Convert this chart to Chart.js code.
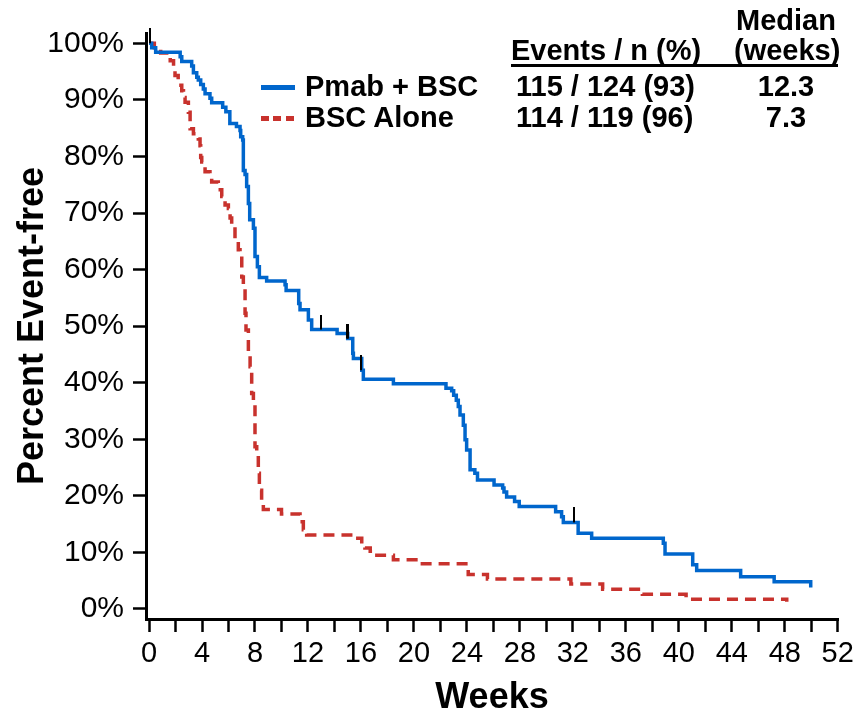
<!DOCTYPE html>
<html>
<head>
<meta charset="utf-8">
<script src="https://cdn.jsdelivr.net/npm/chart.js@4.4.1/dist/chart.umd.min.js"></script>
<style>
  html, body { margin: 0; padding: 0; background: #fff; }
  #wrap { position: relative; width: 854px; height: 716px; font-family: "Liberation Sans", Arial, sans-serif; }
  #kmChart { position: absolute; left: 0; top: 0; }
  .lg { position: absolute; font-weight: bold; font-size: 29px; line-height: 29px; white-space: nowrap; color: #000; }
  .ctr { width: 104px; text-align: center; }
</style>
</head>
<body>
<div id="wrap">
  <canvas id="kmChart" width="854" height="716"></canvas>

  <div class="lg ctr" style="left:734px;top:6px;">Median</div>
  <div class="lg" style="left:511px;top:36px;">Events / n (%)</div>
  <div class="lg ctr" style="left:734px;top:36px;">(weeks)</div>
  <div style="position:absolute;left:511px;top:64px;width:327px;height:2.5px;background:#000;"></div>

  <div style="position:absolute;left:261px;top:85px;width:34px;height:4.5px;background:#0066CC;"></div>
  <div class="lg" style="left:305px;top:72px;">Pmab + BSC</div>
  <div class="lg" style="left:516px;top:72px;">115 / 124 (93)</div>
  <div class="lg ctr" style="left:734px;top:72px;">12.3</div>

  <div style="position:absolute;left:261px;top:116px;width:34px;height:4.5px;background:repeating-linear-gradient(to right,#C8322D 0 8px,transparent 8px 12.5px);"></div>
  <div class="lg" style="left:305px;top:103px;">BSC Alone</div>
  <div class="lg" style="left:516px;top:103px;">114 / 119 (96)</div>
  <div class="lg ctr" style="left:734px;top:103px;">7.3</div>
</div>

<script>
// Pmab + BSC (event times in weeks, percent event-free after each step)
const pmabWeeks = [0, 0.2, 0.5, 2.35, 2.47, 3.22, 3.35, 3.6, 3.72, 3.9, 4.1, 4.23, 4.6, 4.73, 5.56,
    5.8, 6.1, 6.6, 6.87, 6.92, 7.07, 7.12, 7.25, 7.37, 7.5, 7.6, 7.88, 8.0, 8.18, 8.33,
    8.88, 10.27, 10.35, 11.3, 11.4, 12.03, 12.28, 14.2, 15.0, 15.38, 15.43, 16.06, 16.18, 18.45, 22.42,
    22.85, 23.0, 23.2, 23.35, 23.48, 23.73, 23.86, 23.98, 24.24, 24.6, 24.8, 26.05, 26.7, 26.8, 27.0,
    27.6, 27.95, 30.7, 31.15, 31.28, 32.4, 33.42, 38.83, 38.96, 41.05, 41.35, 44.67, 47.2, 49.96];
const pmabPct = [100, 99.2, 98.4, 97.6, 96.8, 96.0, 94.8, 94.0, 93.5, 92.7, 91.9, 91.1, 90.3, 89.5, 88.7,
    87.9, 85.8, 85.3, 84.6, 83.5, 82.9, 77.5, 76.8, 74.7, 71.7, 68.8, 67.3, 62.3, 60.5, 58.6,
    58.0, 57.3, 56.3, 54.0, 52.9, 51.1, 49.4, 48.7, 47.8, 45.2, 44.3, 42.2, 40.6, 39.8, 39.0,
    38.6, 37.8, 36.9, 35.8, 34.3, 32.5, 29.9, 28.1, 24.6, 24.0, 22.8, 21.9, 21.4, 20.7, 19.8,
    19.0, 18.1, 17.2, 16.3, 15.3, 13.4, 12.5, 11.6, 9.7, 7.8, 6.8, 5.7, 4.8, 3.8];

// BSC Alone
const bscWeeks = [0, 0.4, 0.88, 1.5, 1.6, 1.85, 1.96, 2.2, 2.47, 2.6, 2.72, 2.97, 3.1, 3.35, 3.72,
    3.85, 3.9, 3.98, 4.23, 4.6, 4.73, 5.23, 5.49, 5.74, 5.99, 6.12, 6.24, 6.49, 6.74, 6.87,
    7.0, 7.12, 7.25, 7.32, 7.5, 7.63, 7.75, 7.88, 8.0, 8.13, 8.25, 8.33, 8.5, 8.63, 10.0,
    11.4, 11.65, 11.9, 15.43, 16.06, 16.3, 16.7, 16.93, 18.45, 20.15, 24.1, 25.55, 31.85, 34.25, 37.25,
    40.55, 48.15];
const bscPct = [100, 99.2, 98.3, 97.5, 96.9, 95.4, 94.3, 92.6, 91.6, 90.4, 89.6, 87.8, 84.9, 84.0, 83.1,
    81.9, 79.8, 79.0, 77.3, 76.5, 75.5, 74.1, 72.9, 71.4, 70.8, 69.1, 67.9, 64.9, 63.5, 62.3,
    58.7, 57.0, 52.3, 49.3, 45.2, 42.8, 38.1, 36.9, 28.7, 27.5, 24.0, 21.0, 18.5, 17.6, 16.8,
    15.4, 14.0, 13.1, 12.5, 11.5, 10.8, 10.2, 9.5, 8.7, 8.0, 6.1, 5.3, 4.4, 3.5, 2.6,
    1.7, 1.3];

// censored observations (black tick marks)
const censorWeeks = [0.1, 12.97, 14.95, 15.02, 15.98, 32.1];
const censorPct = [100, 49.4, 47.8, 47.8, 42.2, 15.3];

const weekTicks = [0, 2, 4, 6, 8, 10, 12, 14, 16, 18, 20, 22, 24, 26, 28, 30, 32, 34, 36, 38, 40, 42, 44, 46, 48, 50, 52];
const pctTicks = [0, 10, 20, 30, 40, 50, 60, 70, 80, 90, 100];

const FONT = '"Liberation Sans", Arial, sans-serif';

function toPoints(xs, ys) {
    return xs.map((x, i) => ({ x: x, y: ys[i] }));
}

// small vertical bar sitting on top of the point
function censorMark() {
    const c = document.createElement("canvas");
    c.width = 2;
    c.height = 30;
    const g = c.getContext("2d");
    g.fillStyle = "#000";
    g.fillRect(0, 0, 2, 15);
    return c;
}

const ctx = document.getElementById("kmChart").getContext("2d");

new Chart(ctx, {
    type: "scatter",
    data: {
        datasets: [
            {
                label: "Censored",
                data: toPoints(censorWeeks, censorPct),
                pointStyle: censorMark(),
                pointRadius: 5,
                showLine: false,
                clip: false
            },
            {
                label: "Pmab + BSC",
                data: toPoints(pmabWeeks, pmabPct),
                showLine: true,
                stepped: "before",
                borderColor: "#0066CC",
                borderWidth: 3.5,
                pointRadius: 0
            },
            {
                label: "BSC Alone",
                data: toPoints(bscWeeks, bscPct),
                showLine: true,
                stepped: "before",
                borderColor: "#C8322D",
                borderWidth: 3.5,
                borderDash: [11, 7],
                pointRadius: 0
            }
        ]
    },
    options: {
        responsive: false,
        animation: false,
        events: [],
        layout: { padding: { top: 33, right: 16, bottom: 0, left: 0 } },
        plugins: {
            legend: { display: false },
            tooltip: { enabled: false }
        },
        scales: {
            x: {
                type: "linear",
                min: -0.23,
                max: 52.02,
                afterBuildTicks: s => { s.ticks = weekTicks.map(v => ({ value: v })); },
                afterFit: s => {
                    s.height = 97;
                    s.paddingLeft = 0;
                    s.paddingRight = 0;
                },
                ticks: {
                    autoSkip: false,
                    maxRotation: 0,
                    padding: 5,
                    color: "#000",
                    font: { family: FONT, size: 29 },
                    callback: v => (v % 4 === 0 ? String(v) : "")
                },
                grid: { drawOnChartArea: false, drawTicks: true, tickLength: 13, tickWidth: 2.5, tickColor: "#000" },
                border: { display: true, color: "#000", width: 3 },
                title: {
                    display: true,
                    text: "Weeks",
                    color: "#000",
                    padding: 0,
                    font: { family: FONT, size: 36, weight: "bold", lineHeight: 1 }
                }
            },
            y: {
                min: -1.77,
                max: 101.82,
                afterBuildTicks: s => { s.ticks = pctTicks.map(v => ({ value: v })); },
                afterFit: s => { s.width = 146; },
                ticks: {
                    padding: 9,
                    color: "#000",
                    font: { family: FONT, size: 30 },
                    callback: v => v + "%"
                },
                grid: { drawOnChartArea: false, drawTicks: true, tickLength: 13, tickWidth: 2.5, tickColor: "#000" },
                border: { display: true, color: "#000", width: 3 },
                title: {
                    display: true,
                    text: "Percent Event-free",
                    color: "#000",
                    padding: { top: 15, bottom: 0 },
                    font: { family: FONT, size: 36, weight: "bold", lineHeight: 1 }
                }
            }
        }
    }
});
</script>
</body>
</html>
